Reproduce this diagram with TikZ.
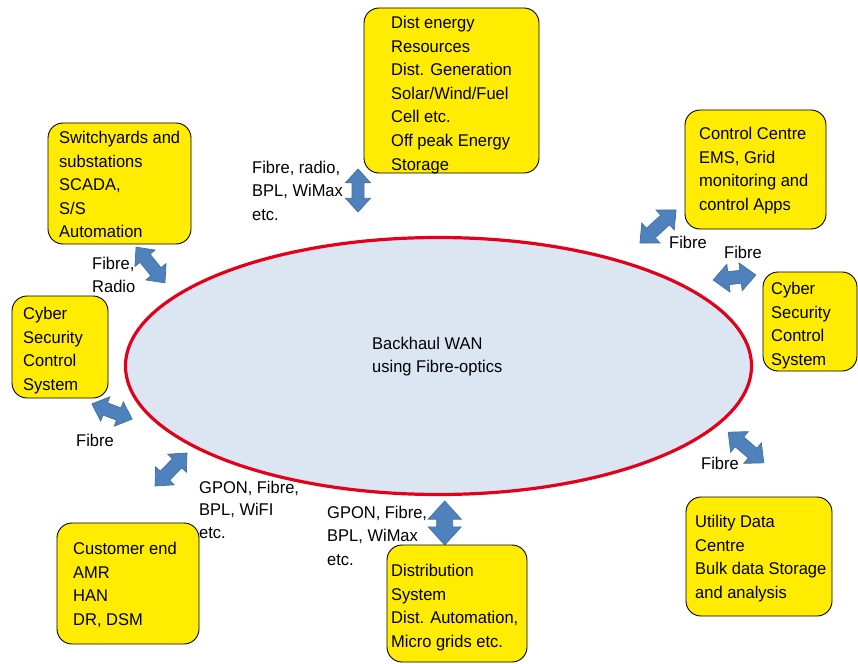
\documentclass[tikz,border=0pt]{standalone}
\usepackage{fontspec}
\setmainfont[FakeStretch=0.97]{Liberation Sans}
\usetikzlibrary{shapes.geometric}
\definecolor{boxyellow}{HTML}{FFEC00}
\definecolor{wanfill}{HTML}{DCE6F2}
\definecolor{wanred}{HTML}{E2001A}
\definecolor{arrowblue}{HTML}{4F81BD}
\definecolor{arrowline}{HTML}{41709F}
\tikzset{
  ybox/.style={rectangle, rounded corners=15pt, draw=black, line width=0.9pt, fill=boxyellow, inner sep=0pt},
  txt/.style={anchor=north west, inner sep=0pt, align=left, font=\fontsize{17}{23.6}\selectfont},
  barrow/.style={draw=arrowline, fill=arrowblue, line width=0.7pt, line join=miter}
}
% #1,#2 centre; #3 angle; #4 length; #5 head width; #6 shaft width
\newcommand\dblarr[6]{%
  \pgfmathsetmacro\arrH{#4/2}%
  \pgfmathsetmacro\arrK{0.55*#5}%
  \pgfmathsetmacro\arrA{#5/2}%
  \pgfmathsetmacro\arrS{#6/2}%
  \begin{scope}[shift={(#1,#2)},rotate=#3]
    \draw[barrow] (-\arrH,0) -- ({-\arrH+\arrK},\arrA) -- ({-\arrH+\arrK},\arrS)
      -- ({\arrH-\arrK},\arrS) -- ({\arrH-\arrK},\arrA) -- (\arrH,0)
      -- ({\arrH-\arrK},-\arrA) -- ({\arrH-\arrK},-\arrS) -- ({-\arrH+\arrK},-\arrS)
      -- ({-\arrH+\arrK},-\arrA) -- cycle;
  \end{scope}}
\begin{document}
\begin{tikzpicture}[x=1pt,y=-1pt]
\useasboundingbox (0,0) rectangle (858,663);
% central ellipse
\node[ellipse, draw=wanred, line width=3.2pt, fill=wanfill, minimum width=626pt, minimum height=257pt, inner sep=0pt] (wan) at (438.5,366) {};
\node[txt] (wantxt) at (372,336.5) {Backhaul WAN\\using Fibre-optics};
% arrows
\dblarr{358}{190.5}{90}{43}{25}{12}
\dblarr{658}{226.5}{42.5}{49}{27}{13}
\dblarr{734.5}{277.5}{6.6}{43}{28}{13}
\dblarr{150.5}{265}{-51.1}{46}{26}{13}
\dblarr{112}{411.5}{-20.6}{43}{26}{13}
\dblarr{171}{469.5}{45.9}{46}{26}{13}
\dblarr{444.7}{523}{90}{44}{33}{16}
\dblarr{746}{447.5}{-40.7}{47}{27}{13}
% boxes
\node[ybox, minimum width=175pt, minimum height=165pt] (b1) at (451.5,90.5) {};
\node[ybox, minimum width=143pt, minimum height=121pt] (b2) at (119.5,183.5) {};
\node[ybox, minimum width=141pt, minimum height=119pt] (b3) at (755.5,169.5) {};
\node[ybox, minimum width=94pt, minimum height=99pt] (b4) at (810,321.5) {};
\node[ybox, minimum width=96pt, minimum height=102pt] (b5) at (60,347) {};
\node[ybox, minimum width=146pt, minimum height=119pt] (b6) at (759,556.5) {};
\node[ybox, minimum width=142pt, minimum height=121pt] (b7) at (128,583.5) {};
\node[ybox, minimum width=140pt, minimum height=117pt] (b8) at (457,603.5) {};
% box texts
\node[txt] (t1) at (391,16) {Dist energy\\Resources\\Dist. Generation\\Solar/Wind/Fuel\\Cell etc.\\Off peak Energy\\Storage};
\node[txt] (t2) at (59,131) {Switchyards and\\substations\\SCADA,\\S/S\\Automation};
\node[txt] (t3) at (699,127) {Control Centre\\EMS, Grid\\monitoring and\\control Apps};
\node[txt] (t4) at (771,282) {Cyber\\Security\\Control\\System};
\node[txt] (t5) at (23,307) {Cyber\\Security\\Control\\System};
\node[txt] (t6) at (695,515) {Utility Data\\Centre\\Bulk data Storage\\and analysis};
\node[txt] (t7) at (73,542) {Customer end\\AMR\\HAN\\DR, DSM};
\node[txt] (t8) at (391,564) {Distribution\\System\\Dist. Automation,\\Micro grids etc.};
% link labels
\node[txt] (l1) at (252,160.5) {Fibre, radio,\\BPL, WiMax\\etc.};
\node[txt] (l2) at (92,256.5) {Fibre,\\Radio};
\node[txt] (l3) at (669,235.5) {Fibre};
\node[txt] (l4) at (724,245.5) {Fibre};
\node[txt] (l5) at (76,433.5) {Fibre};
\node[txt, font=\fontsize{17}{22.6}\selectfont] (l6) at (199,480.5) {GPON, Fibre,\\BPL, WiFI\\etc.};
\node[txt] (l7) at (327,505.5) {GPON, Fibre,\\BPL, WiMax\\etc.};
\node[txt] (l8) at (701,456.5) {Fibre};
\end{tikzpicture}
\end{document}
